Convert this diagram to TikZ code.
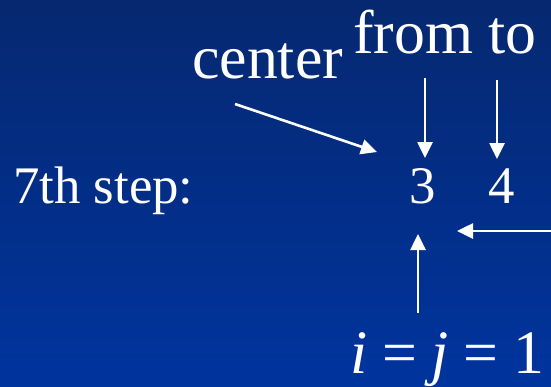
\documentclass[tikz,border=0pt]{standalone}
\usepackage{fontspec}
\setmainfont{Liberation Serif}
\usetikzlibrary{arrows.meta}
\definecolor{bgtop}{RGB}{6,40,112}
\definecolor{bgbot}{RGB}{0,52,158}
\tikzset{
  lbl/.style={text=white, inner sep=0pt, anchor=base west},
  big/.style={font=\fontsize{62}{62}\selectfont},
  mid/.style={font=\fontsize{53}{53}\selectfont},
  arr/.style={draw=white, line width=2.6bp, -{Triangle[length=16bp,width=15bp]}},
}
\begin{document}
\begin{tikzpicture}[x=1bp,y=-1bp]
\shade[top color=bgtop, bottom color=bgbot] (0,0) rectangle (551,386);
\useasboundingbox (0,0) rectangle (551,386);
% texts
\node[lbl,big] (center) at (192,78) {center};
\node[lbl,big] (fromto) at (353,53) {from to};
\node[lbl,mid] (step) at (13,203) {7th step:};
\node[lbl,mid] (three) at (409,203) {3};
\node[lbl,mid] (four) at (488,203) {4};
\node[lbl,big] (ij) at (350,373) {\textit{i}\hspace{0.24em}=\hspace{0.24em}\textit{j}\hspace{0.24em}=\hspace{0.24em}1};
% arrow end points
\coordinate (cs) at (235,104);
\coordinate (ce) at (377,152);
\coordinate (fs) at (425,78);
\coordinate (fe) at (425,158);
\coordinate (ts) at (497,80);
\coordinate (te) at (497,159);
\coordinate (hs) at (551,231);
\coordinate (he) at (457,231);
\coordinate (us) at (418,313);
\coordinate (ue) at (418,234);
\draw[arr] (cs) -- (ce);
\draw[arr] (fs) -- (fe);
\draw[arr] (ts) -- (te);
\draw[arr] (hs) -- (he);
\draw[arr] (us) -- (ue);
\end{tikzpicture}
\end{document}
